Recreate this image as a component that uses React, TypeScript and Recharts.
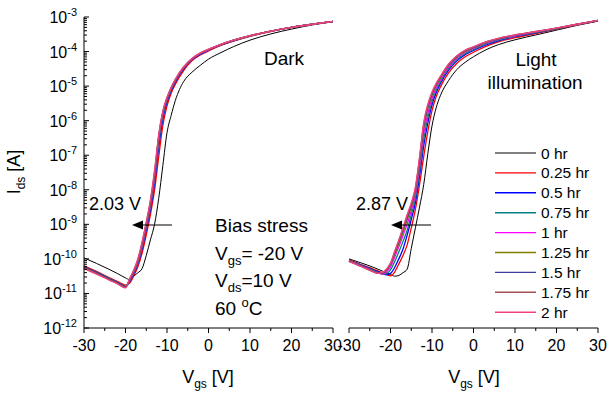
import { LineChart, Line, XAxis, YAxis } from "recharts"

const FONT = "'Liberation Sans', Arial, Helvetica, sans-serif"

// gate voltage sweep points (V)
const darkV = [-30, -27, -24, -22, -20, -19, -18, -17, -16, -15, -14, -13, -12, -11, -10, -9, -8, -6, -4, -2, 0, 3, 6, 10, 15, 20, 25, 30]
const lightV = [-30, -27, -24, -23, -22, -21, -20, -19, -18, -17, -16, -15, -14, -13, -12, -11, -10, -9, -8, -6, -4, -2, 0, 3, 6, 10, 15, 20, 25, 30]

// log10(Ids / A), dark
const dark0h = [-9.97, -10.13, -10.3, -10.42, -10.55, -10.6, -10.5, -10.4, -10.28, -9.9, -9.45, -9.0, -8.25, -7.3, -6.35, -5.85, -5.42, -4.87, -4.6, -4.4, -4.22, -4.03, -3.86, -3.67, -3.49, -3.35, -3.23, -3.14]
const dark025h = [-10.2, -10.36, -10.54, -10.65, -10.76, -10.7, -10.49, -10.22, -9.83, -9.31, -8.72, -8.01, -7.05, -6.14, -5.57, -5.21, -4.95, -4.55, -4.27, -4.1, -3.98, -3.82, -3.7, -3.56, -3.42, -3.3, -3.21, -3.13]
const dark05h = [-10.24, -10.4, -10.58, -10.69, -10.8, -10.66, -10.43, -10.14, -9.71, -9.16, -8.57, -7.81, -6.77, -5.95, -5.46, -5.14, -4.89, -4.5, -4.24, -4.08, -3.96, -3.81, -3.69, -3.55, -3.41, -3.3, -3.21, -3.13]
const dark075h = [-10.25, -10.41, -10.59, -10.7, -10.81, -10.64, -10.4, -10.11, -9.67, -9.11, -8.51, -7.73, -6.66, -5.87, -5.42, -5.11, -4.86, -4.48, -4.23, -4.07, -3.95, -3.8, -3.68, -3.55, -3.41, -3.3, -3.21, -3.13]
const dark1h = [-10.26, -10.39, -10.56, -10.67, -10.8, -10.62, -10.38, -10.08, -9.62, -9.05, -8.45, -7.65, -6.55, -5.8, -5.38, -5.08, -4.84, -4.47, -4.22, -4.06, -3.95, -3.8, -3.68, -3.55, -3.41, -3.3, -3.21, -3.13]
const dark125h = [-10.24, -10.4, -10.57, -10.68, -10.79, -10.61, -10.36, -10.06, -9.59, -9.02, -8.41, -7.6, -6.51, -5.78, -5.36, -5.07, -4.83, -4.46, -4.21, -4.05, -3.94, -3.79, -3.68, -3.55, -3.41, -3.3, -3.21, -3.13]
const dark15h = [-10.22, -10.38, -10.56, -10.67, -10.8, -10.6, -10.35, -10.03, -9.56, -8.99, -8.37, -7.54, -6.48, -5.76, -5.35, -5.06, -4.82, -4.46, -4.21, -4.05, -3.94, -3.79, -3.67, -3.54, -3.41, -3.3, -3.21, -3.13]
const dark175h = [-10.27, -10.43, -10.6, -10.71, -10.83, -10.58, -10.33, -10.01, -9.53, -8.96, -8.33, -7.48, -6.44, -5.74, -5.34, -5.05, -4.81, -4.45, -4.21, -4.05, -3.94, -3.79, -3.67, -3.54, -3.41, -3.3, -3.21, -3.13]
const dark2h = [-10.28, -10.44, -10.61, -10.72, -10.84, -10.57, -10.32, -9.99, -9.51, -8.93, -8.29, -7.43, -6.4, -5.72, -5.32, -5.03, -4.8, -4.44, -4.2, -4.04, -3.93, -3.79, -3.67, -3.54, -3.41, -3.3, -3.21, -3.13]

// log10(Ids / A), light illumination
const light0h = [-10.0, -10.12, -10.25, -10.3, -10.35, -10.4, -10.45, -10.5, -10.48, -10.4, -10.3, -9.7, -9.1, -8.5, -7.85, -6.95, -6.15, -5.63, -5.28, -4.84, -4.52, -4.31, -4.15, -3.95, -3.8, -3.66, -3.52, -3.38, -3.24, -3.12]
const light025h = [-10.03, -10.17, -10.3, -10.35, -10.4, -10.45, -10.49, -10.38, -10.15, -9.9, -9.6, -9.11, -8.57, -7.85, -7.04, -6.31, -5.71, -5.31, -5.03, -4.62, -4.34, -4.15, -4.02, -3.85, -3.72, -3.6, -3.48, -3.35, -3.23, -3.11]
const light05h = [-10.04, -10.18, -10.33, -10.37, -10.42, -10.46, -10.42, -10.25, -10.0, -9.72, -9.32, -8.86, -8.37, -7.6, -6.73, -6.06, -5.54, -5.19, -4.93, -4.54, -4.27, -4.09, -3.97, -3.81, -3.69, -3.57, -3.46, -3.34, -3.22, -3.11]
const light075h = [-10.05, -10.19, -10.34, -10.39, -10.44, -10.43, -10.32, -10.08, -9.8, -9.5, -9.18, -8.72, -8.25, -7.46, -6.55, -5.92, -5.44, -5.12, -4.88, -4.49, -4.23, -4.06, -3.94, -3.78, -3.67, -3.56, -3.45, -3.34, -3.22, -3.11]
const light1h = [-10.06, -10.2, -10.36, -10.4, -10.44, -10.38, -10.23, -9.95, -9.65, -9.33, -9.0, -8.6, -8.13, -7.31, -6.37, -5.78, -5.35, -5.05, -4.82, -4.45, -4.19, -4.02, -3.91, -3.76, -3.65, -3.55, -3.44, -3.33, -3.21, -3.1]
const light125h = [-10.06, -10.21, -10.37, -10.41, -10.42, -10.34, -10.17, -9.88, -9.57, -9.24, -8.88, -8.51, -8.04, -7.2, -6.23, -5.66, -5.27, -4.99, -4.78, -4.41, -4.16, -4.0, -3.89, -3.74, -3.64, -3.53, -3.43, -3.33, -3.21, -3.1]
const light15h = [-10.07, -10.21, -10.37, -10.41, -10.41, -10.32, -10.15, -9.83, -9.51, -9.17, -8.81, -8.46, -7.99, -7.14, -6.16, -5.61, -5.23, -4.96, -4.75, -4.39, -4.14, -3.98, -3.88, -3.73, -3.63, -3.53, -3.43, -3.32, -3.21, -3.1]
const light175h = [-10.07, -10.22, -10.38, -10.42, -10.4, -10.31, -10.13, -9.8, -9.48, -9.13, -8.76, -8.42, -7.96, -7.09, -6.1, -5.56, -5.2, -4.94, -4.74, -4.37, -4.13, -3.97, -3.87, -3.72, -3.62, -3.52, -3.42, -3.32, -3.21, -3.1]
const light2h = [-10.07, -10.22, -10.38, -10.42, -10.4, -10.3, -10.12, -9.78, -9.45, -9.1, -8.72, -8.38, -7.92, -7.05, -6.05, -5.52, -5.17, -4.92, -4.72, -4.36, -4.12, -3.96, -3.86, -3.72, -3.62, -3.52, -3.42, -3.32, -3.21, -3.1]

const seriesNames = ["0 hr", "0.25 hr", "0.5 hr", "0.75 hr", "1 hr", "1.25 hr", "1.5 hr", "1.75 hr", "2 hr"]
const seriesColors = ["#000000", "#ff0000", "#0000ff", "#008080", "#ff00ff", "#808000", "#3c3ca0", "#a05050", "#f2407f"]

const darkSeries = [dark0h, dark025h, dark05h, dark075h, dark1h, dark125h, dark15h, dark175h, dark2h]
const lightSeries = [light0h, light025h, light05h, light075h, light1h, light125h, light15h, light175h, light2h]

const xMajor = [-30, -20, -10, 0, 10, 20, 30]
const xMinor = [-25, -15, -5, 5, 15, 25]
const yDecades = [-12, -11, -10, -9, -8, -7, -6, -5, -4, -3]

const xTicks = [...xMajor, ...xMinor].sort((a, b) => a - b)
const yTicks: number[] = []
yDecades.forEach((d) => {
  yTicks.push(10 ** d)
  if (d < -3) for (let m = 2; m <= 9; m++) yTicks.push(m * 10 ** d)
})

function buildRows(vs: number[], series: number[][]) {
  return vs.map((v, i) => {
    const row: Record<string, number> = { v }
    series.forEach((s, k) => {
      row["s" + k] = 10 ** s[i]
    })
    return row
  })
}

const darkRows = buildRows(darkV, darkSeries)
const lightRows = buildRows(lightV, lightSeries)

// plot frame, page pixels
const TOP = 17
const BOTTOM = 328
const L_LEFT = 84
const L_RIGHT = 333
const R_LEFT = 349
const R_RIGHT = 598

function yTick(axisX: number, dir: number, label: boolean) {
  return (props: any) => {
    const { y, payload } = props
    const e = Math.log10(payload.value)
    const major = Math.abs(e - Math.round(e)) < 1e-6
    const len = major ? 5 : 3
    return (
      <g>
        <line x1={axisX} x2={axisX + dir * len} y1={y} y2={y} stroke="#000" strokeWidth={1} />
        {label && major && (
          <text x={axisX - 7} y={y + 6} textAnchor="end" fontFamily={FONT} fontSize={16} fill="#000">
            10<tspan dy={-7} fontSize={11}>{Math.round(e)}</tspan>
          </text>
        )}
      </g>
    )
  }
}

function xTick(axisY: number, dir: number, label: boolean) {
  return (props: any) => {
    const { x, payload } = props
    const major = payload.value % 10 === 0
    const len = major ? 5 : 3
    return (
      <g>
        <line x1={x} x2={x} y1={axisY} y2={axisY + dir * len} stroke="#000" strokeWidth={1} />
        {label && major && (
          <text x={x} y={axisY + 23} textAnchor="middle" fontFamily={FONT} fontSize={16} fill="#000">
            {payload.value}
          </text>
        )}
      </g>
    )
  }
}

function Panel({ rows, left, right, showLabels }: { rows: Record<string, number>[]; left: number; right: number; showLabels: boolean }) {
  return (
    <div style={{ position: "absolute", left: 0, top: 0 }}>
      <LineChart width={607} height={394} data={rows} margin={{ top: TOP, right: 607 - right, bottom: 0, left: showLabels ? 0 : left }}>
        <XAxis xAxisId="b" dataKey="v" type="number" domain={[-30, 30]} ticks={xTicks} interval={0} height={394 - BOTTOM} axisLine={{ stroke: "#000" }} tickLine={false} tick={xTick(BOTTOM, 1, true)} />
        <XAxis xAxisId="t" orientation="top" dataKey="v" type="number" domain={[-30, 30]} ticks={xTicks} interval={0} height={0} axisLine={{ stroke: "#000" }} tickLine={false} tick={xTick(TOP, 1, false)} />
        <YAxis yAxisId="l" type="number" scale="log" domain={[1e-12, 1e-3]} allowDataOverflow ticks={yTicks} interval={0} width={showLabels ? left : 0} axisLine={{ stroke: "#000" }} tickLine={false} tick={yTick(left, 1, showLabels)} />
        <YAxis yAxisId="r" orientation="right" type="number" scale="log" domain={[1e-12, 1e-3]} allowDataOverflow ticks={yTicks} interval={0} width={0} axisLine={{ stroke: "#000" }} tickLine={false} tick={yTick(right, -1, false)} />
        {seriesNames.map((name, k) => (
          <Line
            key={name}
            xAxisId="b"
            yAxisId="l"
            dataKey={"s" + k}
            name={name}
            type="monotone"
            stroke={seriesColors[k]}
            strokeWidth={k === 0 ? 1 : 1.3}
            dot={false}
            isAnimationActive={false}
          />
        ))}
      </LineChart>
    </div>
  )
}

function Arrow({ x1, x2, y }: { x1: number; x2: number; y: number }) {
  return (
    <g>
      <line x1={x1} x2={x2 + 6} y1={y} y2={y} stroke="#000" strokeWidth={1.2} />
      <polygon points={`${x2},${y} ${x2 + 11},${y - 4.5} ${x2 + 11},${y + 4.5}`} fill="#000" />
    </g>
  )
}

export default function App() {
  const t = { fontFamily: FONT, fill: "#000" }
  return (
    <div style={{ position: "absolute", left: 0, top: 0, width: 607, height: 394, background: "#fff" }}>
      <Panel rows={darkRows} left={L_LEFT} right={L_RIGHT} showLabels={true} />
      <Panel rows={lightRows} left={R_LEFT} right={R_RIGHT} showLabels={false} />
      <svg width={607} height={394} style={{ position: "absolute", left: 0, top: 0, pointerEvents: "none" }}>
        {/* axis titles */}
        <text {...t} x={20} y={172} fontSize={18} textAnchor="middle" transform="rotate(-90 20 172)">
          I<tspan fontSize={12} dy={5}>ds</tspan><tspan dy={-5}> [A]</tspan>
        </text>
        <text {...t} x={208} y={383} fontSize={18} textAnchor="middle">
          V<tspan fontSize={12} dy={5}>gs</tspan><tspan dy={-5}> [V]</tspan>
        </text>
        <text {...t} x={474} y={383} fontSize={18} textAnchor="middle">
          V<tspan fontSize={12} dy={5}>gs</tspan><tspan dy={-5}> [V]</tspan>
        </text>

        {/* panel notes */}
        <text {...t} x={264} y={65} fontSize={19}>Dark</text>
        <text {...t} x={536} y={66} fontSize={19} textAnchor="middle">Light</text>
        <text {...t} x={535} y={89} fontSize={19} textAnchor="middle">illumination</text>

        <text {...t} x={89} y={210} fontSize={18}>2.03 V</text>
        <Arrow x1={172} x2={132} y={225} />
        <text {...t} x={356} y={210} fontSize={18}>2.87 V</text>
        <Arrow x1={431} x2={391} y={225} />

        <text {...t} x={215} y={232} fontSize={19}>Bias stress</text>
        <text {...t} x={215} y={260} fontSize={19}>
          V<tspan fontSize={13} dy={5}>gs</tspan><tspan dy={-5}>= -20 V</tspan>
        </text>
        <text {...t} x={215} y={287} fontSize={19}>
          V<tspan fontSize={13} dy={5}>ds</tspan><tspan dy={-5}>=10 V</tspan>
        </text>
        <text {...t} x={215} y={315} fontSize={19}>
          60 <tspan fontSize={13} dy={-8}>o</tspan><tspan dy={8}>C</tspan>
        </text>

        {/* legend */}
        {seriesNames.map((name, k) => {
          const cy = 153 + k * 19.9
          return (
            <g key={name}>
              <line x1={495} x2={536} y1={cy} y2={cy} stroke={seriesColors[k]} strokeWidth={k === 0 ? 1 : 1.4} />
              <text {...t} x={541} y={cy + 5.5} fontSize={15.5}>{name}</text>
            </g>
          )
        })}
      </svg>
    </div>
  )
}
